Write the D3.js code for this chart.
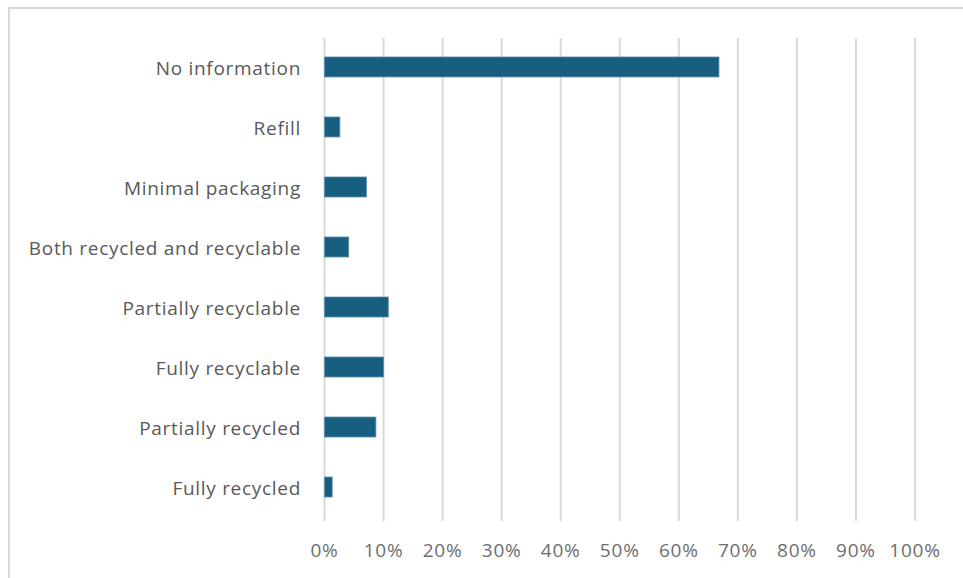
<!DOCTYPE html>
<html>
<head>
<meta charset="utf-8">
<script src="https://cdn.jsdelivr.net/npm/d3@7"></script>
<style>
  html, body { margin: 0; padding: 0; background: #fff; }
  svg { display: block; }
  text { font-family: "Open Sans", "Noto Sans", sans-serif; fill: #595959; }
</style>
</head>
<body>
<svg id="chart" width="963" height="578"></svg>
<script>
// Packaging claim categories, top to bottom
const categories = [
  "No information",
  "Refill",
  "Minimal packaging",
  "Both recycled and recyclable",
  "Partially recyclable",
  "Fully recyclable",
  "Partially recycled",
  "Fully recycled"
];
// Share of products (%)
const shares = [66.8, 2.6, 7.1, 4.1, 10.8, 10.0, 8.7, 1.3];
const ticks = [0, 10, 20, 30, 40, 50, 60, 70, 80, 90, 100];

const svg = d3.select("#chart");

// chart frame (right and bottom edges fall outside the view)
svg.append("rect")
  .attr("x", 9).attr("y", 8)
  .attr("width", 970).attr("height", 590)
  .attr("fill", "none")
  .attr("stroke", "#d9d9d9")
  .attr("stroke-width", 2);

const x = d3.scaleLinear().domain([0, 100]).range([324.5, 915]);
const y = d3.scaleBand().domain(categories).range([37, 517]).paddingInner(0.667).paddingOuter(0.333);

// vertical gridlines
svg.append("g").selectAll("line")
  .data(ticks)
  .join("line")
  .attr("x1", d => x(d)).attr("x2", d => x(d))
  .attr("y1", 38).attr("y2", 521)
  .attr("stroke", "#d9d9d9")
  .attr("stroke-width", 2);

// bars
svg.append("g").selectAll("rect")
  .data(categories)
  .join("rect")
  .attr("x", x(0))
  .attr("y", d => y(d))
  .attr("width", (d, i) => x(shares[i]) - x(0))
  .attr("height", y.bandwidth())
  .attr("fill", "#175e81")
  .attr("stroke", "#5d8fa8")
  .attr("stroke-width", 0.8);

// category labels
svg.append("g").selectAll("text")
  .data(categories)
  .join("text")
  .attr("x", 301)
  .attr("y", d => y(d) + y.bandwidth() / 2)
  .attr("dy", "0.4em")
  .attr("text-anchor", "end")
  .attr("font-size", 19)
  .attr("letter-spacing", 0.7)
  .text(d => d);

// percentage axis labels
svg.append("g").selectAll("text")
  .data(ticks)
  .join("text")
  .attr("x", d => x(d))
  .attr("y", 549)
  .attr("dy", "0.4em")
  .attr("text-anchor", "middle")
  .attr("font-size", 19)
  .attr("letter-spacing", 0.8)
  .style("fill", "#6e6e6e")
  .text(d => d + "%");
</script>
</body>
</html>
